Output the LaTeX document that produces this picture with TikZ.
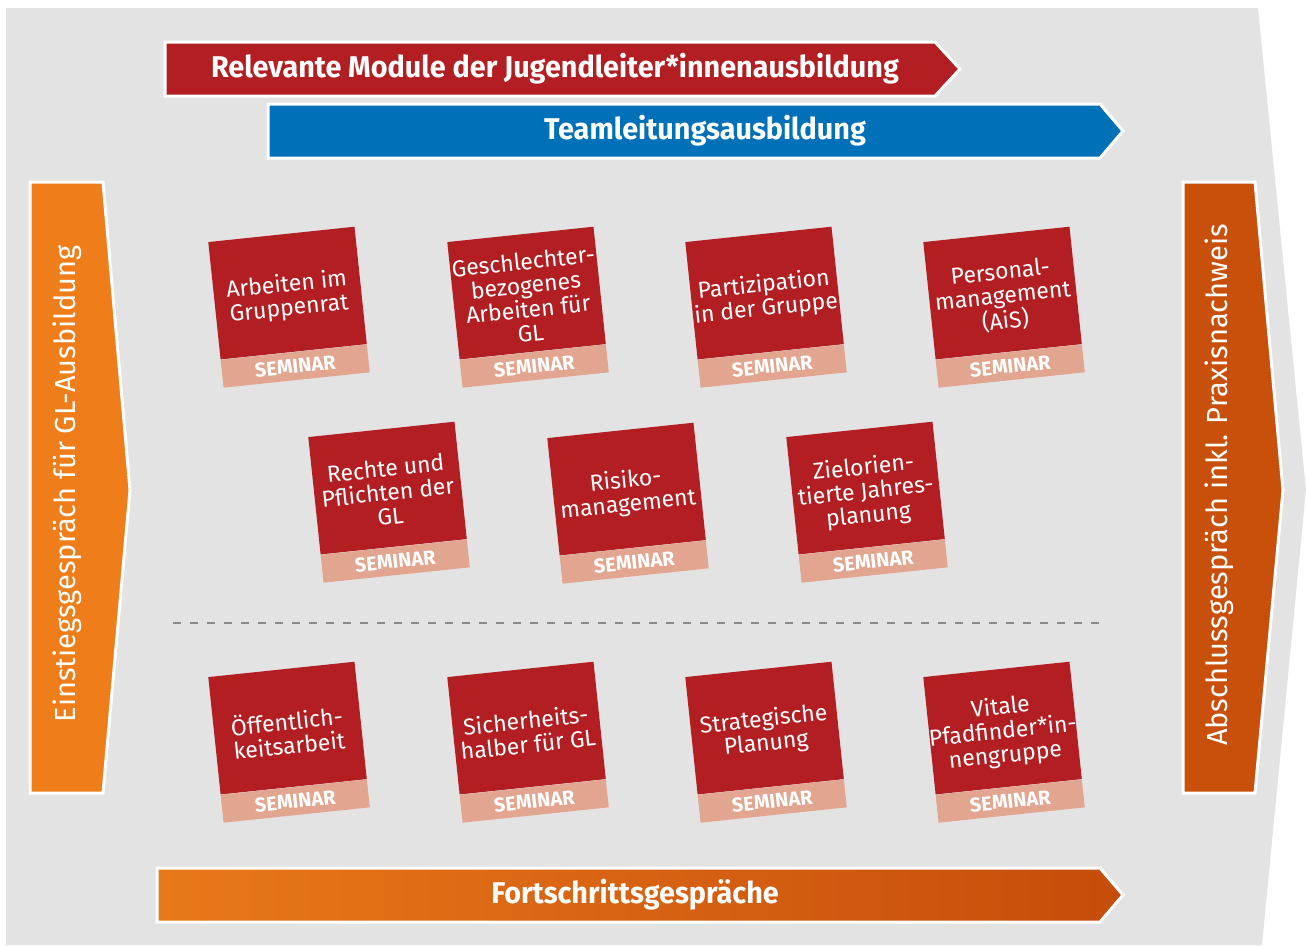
\documentclass[tikz,border=0pt]{standalone}
\usepackage{fontspec}
\usepackage{graphicx}
\setmainfont{Fira Sans}
\usetikzlibrary{calc}
\definecolor{bggrey}{HTML}{E3E3E3}
\definecolor{cardred}{HTML}{B31E22}
\definecolor{bandcol}{HTML}{E2A58F}
\definecolor{barblue}{HTML}{0070B8}
\definecolor{orleft}{HTML}{EE7D1A}
\definecolor{orright}{HTML}{C8500B}
\definecolor{grleft}{HTML}{E8791A}
\definecolor{grright}{HTML}{C64C0A}
\definecolor{dashgrey}{HTML}{8A8A8A}
\tikzset{
  barshape/.style={draw=white, line width=3pt, line join=miter},
  bartext/.style={text=white, font=\fontsize{30}{32}\selectfont\bfseries, inner sep=0pt},
  sidetext/.style={text=white, font=\fontsize{29}{32}\selectfont, inner sep=0pt, rotate=90},
  redcard/.style={fill=cardred, transform shape, minimum width=147pt, minimum height=118pt,
    inner sep=0pt},
  cardtext/.style={transform shape, inner sep=0pt, align=center, text=white,
    font=\fontsize{23}{24}\selectfont},
  bandbox/.style={fill=bandcol, transform shape, minimum width=147pt, minimum height=28pt,
    inner sep=0pt, text=white, font=\fontsize{20}{22}\selectfont\bfseries},
}
\newcommand\seminarcard[4]{%
  \begin{scope}[shift={(#2,#3)}, rotate=6]
    \node[redcard] (#1) at (0,-14) {};
    \node[cardtext] (#1t) at (0,-10) {#4};
    \node[bandbox, anchor=north] (#1s) at (#1.south) {SEMINAR};
  \end{scope}}
\begin{document}
\begin{tikzpicture}[x=1pt,y=-1pt]
\useasboundingbox (0,0) rectangle (1306,945);
% background
\fill[bggrey] (6,8) -- (1258,8) -- (1306,490) -- (1262,945) -- (6,945) -- cycle;
% top red bar
\path[barshape, fill=cardred] (165,42) -- (935,42) -- (960,69) -- (935,96) -- (165,96) -- cycle;
\node[bartext] (relmod) at (555,69) {\scalebox{0.96}[1]{Relevante Module der Jugendleiter*innenausbildung}};
% blue bar
\path[barshape, fill=barblue] (268,104) -- (1100,104) -- (1123,131) -- (1100,158) -- (268,158) -- cycle;
\node[bartext] (team) at (705,131) {\scalebox{0.96}[1]{Teamleitungsausbildung}};
% left arrow
\path[barshape, fill=orleft] (30,182) -- (103,182) -- (130,490) -- (103,793) -- (30,793) -- cycle;
\node[sidetext] (einst) at (67,484) {Einstiegsgespräch für GL-Ausbildung};
% right arrow
\path[barshape, fill=orright] (1183,182) -- (1255,182) -- (1283,490) -- (1255,793) -- (1183,793) -- cycle;
\node[sidetext] (absch) at (1219,485) {Abschlussgespräch inkl. Praxisnachweis};
% bottom bar
\shade[left color=grleft, right color=grright] (157,868) -- (1100,868) -- (1123,895) -- (1100,922) -- (157,922) -- cycle;
\draw[barshape] (157,868) -- (1100,868) -- (1123,895) -- (1100,922) -- (157,922) -- cycle;
\node[bartext] (fort) at (635,895) {\scalebox{0.96}[1]{Fortschrittsgespräche}};
% cards row 1
\seminarcard{c1}{289}{307}{Arbeiten im\\Gruppenrat}
\seminarcard{c2}{528}{307}{Geschlechter-\\bezogenes\\Arbeiten für\\GL}
\seminarcard{c3}{766}{307}{Partizipation\\in der Gruppe}
\seminarcard{c4}{1004}{307}{Personal-\\management\\(AiS)}
% row 2
\seminarcard{c5}{389}{502}{Rechte und\\Pflichten der\\GL}
\seminarcard{c6}{628}{503}{Risiko-\\management}
\seminarcard{c7}{867}{502}{Zielorien-\\tierte Jahres-\\planung}
% dashed separator
\coordinate (dashL) at (173,623);
\coordinate (dashR) at (1105,623);
\draw[dashgrey, line width=1.5pt, dash pattern=on 8pt off 9pt] (dashL) -- (dashR);
% row 3
\seminarcard{c8}{289}{742}{Öffentlich-\\keitsarbeit}
\seminarcard{c9}{528}{742}{Sicherheits-\\halber für GL}
\seminarcard{c10}{766}{742}{Strategische\\Planung}
\seminarcard{c11}{1004}{742}{Vitale\\Pfadfinder*in-\\nengruppe}
\end{tikzpicture}
\end{document}
